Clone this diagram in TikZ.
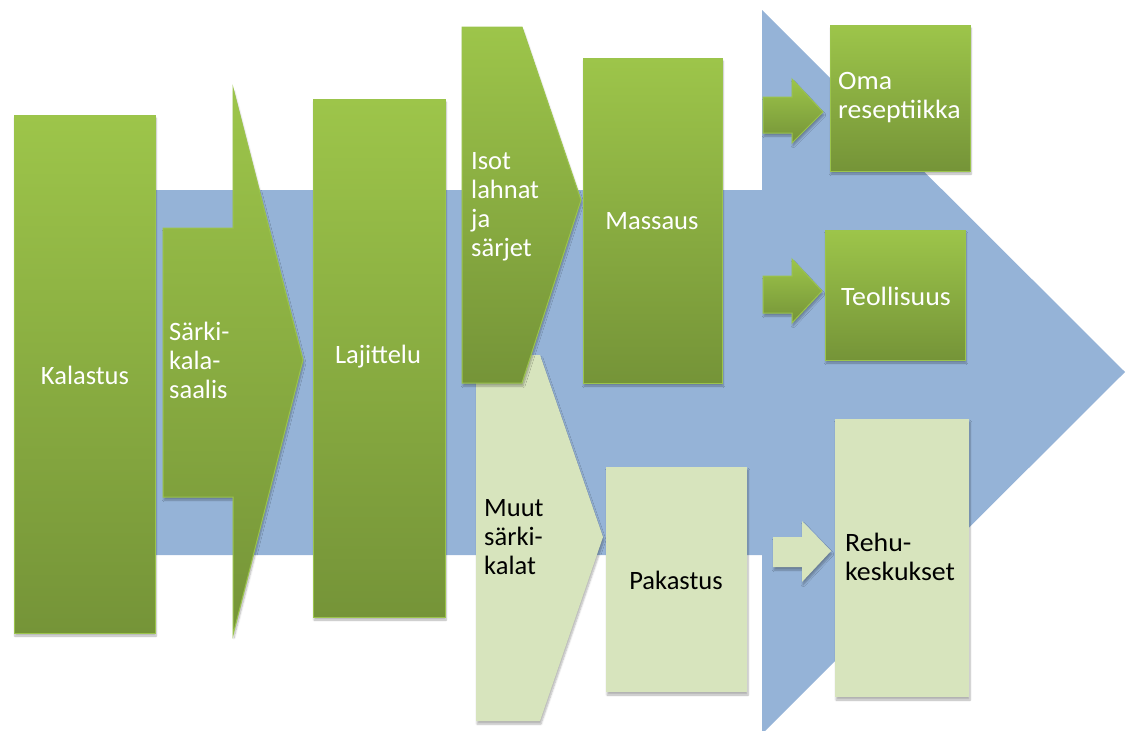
\documentclass[tikz,border=0pt]{standalone}
\usepackage{fontspec}
\setmainfont{Carlito}
\newfontfamily\widefont[FakeStretch=1.05]{Carlito}
\usetikzlibrary{shadows.blur}
\definecolor{flowblue}{RGB}{149,179,215}
\definecolor{greentop}{RGB}{157,197,74}
\definecolor{greenbot}{RGB}{117,148,56}
\definecolor{greenedge}{RGB}{155,196,76}
\definecolor{palegreen}{RGB}{215,228,189}
\tikzset{
  shadowed/.style={blur shadow={shadow blur steps=6,shadow xshift=1pt,shadow yshift=-3pt,shadow opacity=30}},
  darkstep/.style={shadowed,top color=greentop,bottom color=greenbot,draw=greenedge,line width=1pt},
  lightstep/.style={shadowed,fill=palegreen},
  whitelabel/.style={text=white,inner sep=0pt,font=\fontsize{26.5}{29}\selectfont},
  blacklabel/.style={text=black,inner sep=0pt,font=\fontsize{26.5}{29}\selectfont},
  widelabel/.style={font=\widefont\fontsize{26.5}{29}\selectfont},
}
\begin{document}
\begin{tikzpicture}[x=1pt,y=-1pt]
	\useasboundingbox (0,0) rectangle (1128,731);
	% big flow arrow
	\begin{scope}
	    \clip (0,0) rectangle (1128,731);
	    \fill[flowblue] (150,190)--(762,190)--(762,10)--(1125,372)--(762,734)--(762,555)--(150,555)--cycle;
	\end{scope}
	% first stage
	\path[darkstep] (14,115) rectangle (155,633);
	\path[darkstep] (163,228)--(233,228)--(233,88)--(303,360)--(233,635)--(233,497)--(163,497)--cycle;
	\path[darkstep] (313,99) rectangle (445,617);
	% split
	\path[lightstep] (476,355)--(540,355)--(603,537)--(540,721)--(476,721)--cycle;
	\path[darkstep] (462,27)--(522,27)--(581,200)--(522,383)--(462,383)--cycle;
	\path[darkstep] (583,58) rectangle (722,383);
	\path[lightstep] (606,467) rectangle (747,692);
	% small arrows
	\path[darkstep] (763,97)--(792,97)--(792,79)--(823,112)--(792,143)--(792,133)--(763,133)--cycle;
	\path[darkstep] (763,276)--(792,276)--(792,259)--(822,291)--(792,323)--(792,313)--(763,313)--cycle;
	\path[lightstep] (773,537)--(802,537)--(802,521)--(831,551)--(802,582)--(802,567)--(773,567)--cycle;
	% end boxes
	\path[darkstep] (830,25) rectangle (970,171);
	\path[darkstep] (825,230) rectangle (965,360);
	\path[lightstep] (835,419) rectangle (969,697);
	% labels
	\node[whitelabel] (kalastus) at (85,375) {Kalastus};
	\node[whitelabel,anchor=west,align=left] (saalis) at (169,360) {Särki-\\kala-\\saalis};
	\node[whitelabel] (lajittelu) at (378,357) {Lajittelu};
	\node[whitelabel,anchor=west,align=left] (isot) at (471,207) {Isot\\lahnat\\ja\\särjet};
	\node[whitelabel] (massaus) at (652,221) {Massaus};
	\node[blacklabel,anchor=west,align=left] (muut) at (484,537) {Muut\\särki-\\kalat};
	\node[blacklabel] (pakastus) at (676,580) {Pakastus};
	\node[whitelabel,widelabel,anchor=west,align=left] (oma) at (838,98) {Oma\\reseptiikka};
	\node[whitelabel,widelabel] (teollisuus) at (896,296) {Teollisuus};
	\node[blacklabel,widelabel,anchor=west,align=left] (rehu) at (845,557) {Rehu-\\keskukset};
\end{tikzpicture}
\end{document}
